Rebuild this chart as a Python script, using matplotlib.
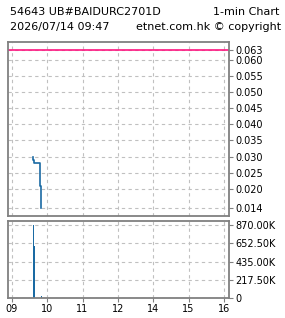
import matplotlib
matplotlib.use("Agg")
import matplotlib.pyplot as plt
from matplotlib.ticker import FixedLocator

# minutes since 09:00 on a compressed session axis (lunch hour removed)
hour_pos = [0, 60, 120, 180, 240, 300, 360]
hour_labels = ["09", "10", "11", "12", "14", "15", "16"]

price_min = [36.5, 38, 48.5, 50, 50]
price_val = [0.030, 0.029, 0.028, 0.021, 0.014]
prev_close = 0.063

vol_min = [36.5, 38, 50]
vol_val = [870000, 625000, 20000]

price_ticks = [0.014, 0.020, 0.025, 0.030, 0.035, 0.040, 0.045, 0.050, 0.055, 0.060, 0.063]
vol_ticks = [0, 217500, 435000, 652500, 870000]
vol_labels = ["0", "217.50K", "435.00K", "652.50K", "870.00K"]

FRAME = "#808080"
GRID = "#c0c0c0"
FS = 7
TFS = 8

W, H = 285, 318
fig = plt.figure(figsize=(W / 100, H / 100), dpi=100)

ax_p = fig.add_axes([8 / W, 1 - 216 / H, 221 / W, 174 / H])
ax_v = fig.add_axes([8 / W, 1 - 298 / H, 221 / W, 77 / H])

for ax in (ax_p, ax_v):
    ax.set_xlim(-6.5, 368.5)
    for s in ax.spines.values():
        s.set_color(FRAME)
        s.set_linewidth(1.3)
    ax.xaxis.set_major_locator(FixedLocator(hour_pos))
    ax.grid(True, color=GRID, linestyle=(0, (3, 3)), linewidth=0.8)
    ax.set_axisbelow(True)
    ax.yaxis.tick_right()
    ax.tick_params(axis="y", direction="out", length=3, width=0.8, color=FRAME, labelsize=FS, pad=1.5)

ax_p.axhline(prev_close, color="#ff1480", linewidth=1.2)
ax_p.plot(price_min, price_val, drawstyle="steps-pre", color="#1a6aa3", linewidth=1.2)
ax_p.set_ylim(0.0116, 0.0655)
ax_p.set_yticks(price_ticks)
ax_p.set_yticklabels([f"{v:.3f}" for v in price_ticks])
ax_p.tick_params(axis="x", length=0, labelbottom=False)

ax_v.bar(vol_min, vol_val, width=1.6, color="#1a6aa3")
ax_v.set_ylim(0, 920000)
ax_v.set_yticks(vol_ticks)
ax_v.set_yticklabels(vol_labels)
ax_v.set_xticklabels(hour_labels)
ax_v.tick_params(axis="x", direction="out", length=3, width=0.8, color=FRAME, labelsize=FS, pad=1.5)

fig.text(10 / W, 1 - 12 / H, "54643 UB#BAIDURC2701D", fontsize=TFS, va="center", ha="left")
fig.text(279 / W, 1 - 12 / H, "1-min Chart", fontsize=TFS, va="center", ha="right")
fig.text(10 / W, 1 - 27 / H, "2026/07/14 09:47", fontsize=TFS, va="center", ha="left")
fig.text(281 / W, 1 - 27 / H, "etnet.com.hk \u00a9 copyright", fontsize=TFS, va="center", ha="right")

fig.savefig("out.png", dpi=100, facecolor="white")
